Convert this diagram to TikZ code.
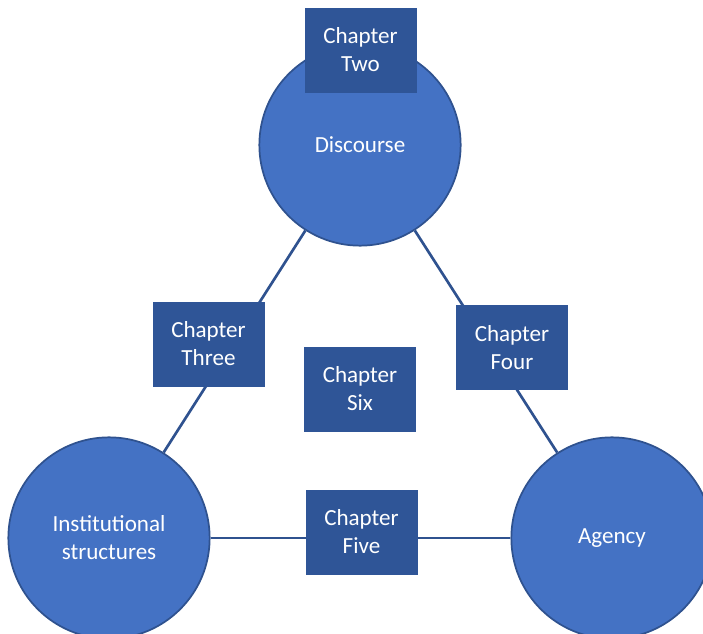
\documentclass[tikz,border=0pt]{standalone}
\usepackage{fontspec}
\setmainfont{Carlito}
\usepackage{xcolor}
\usepackage{tikz}
\usetikzlibrary{shapes,arrows}
\definecolor{circblue}{HTML}{4472C4}
\definecolor{boxblue}{HTML}{2F5597}
\definecolor{edgeblue}{HTML}{2F528F}
\tikzstyle{theme} = [circle, draw=edgeblue, line width=1.3pt, fill=circblue, text=white, align=center, minimum size=151pt, inner sep=0pt, font=\fontsize{17.3}{21}\selectfont]
\tikzstyle{chapter} = [rectangle, fill=boxblue, draw=boxblue, text=white, align=center, minimum width=83pt, minimum height=63pt, inner sep=0pt, font=\fontsize{17.3}{21}\selectfont]
\tikzstyle{link} = [draw=edgeblue, line width=2pt]

\begin{document}
\begin{tikzpicture}[x=0.75pt, y=-0.75pt]
\useasboundingbox (0,0) rectangle (703,634);
\clip (0,0) rectangle (703,634);
\node [theme] (discourse) at (360,145) {Discourse};
\node [theme] (institutional) at (109,538) {Institutional\\structures};
\node [theme] (agency) at (612,538) {Agency};
\path [link] (discourse) -- (institutional);
\path [link] (discourse) -- (agency);
\path [link] (institutional) -- (agency);
\node [chapter] (ch-two) at (360.5,50) {Chapter\\Two};
\node [chapter] (ch-three) at (208.5,344) {Chapter\\Three};
\node [chapter] (ch-four) at (512,347.5) {Chapter\\Four};
\node [chapter] (ch-six) at (360,389) {Chapter\\Six};
\node [chapter] (ch-five) at (361.5,532) {Chapter\\Five};
\end{tikzpicture}
\end{document}
